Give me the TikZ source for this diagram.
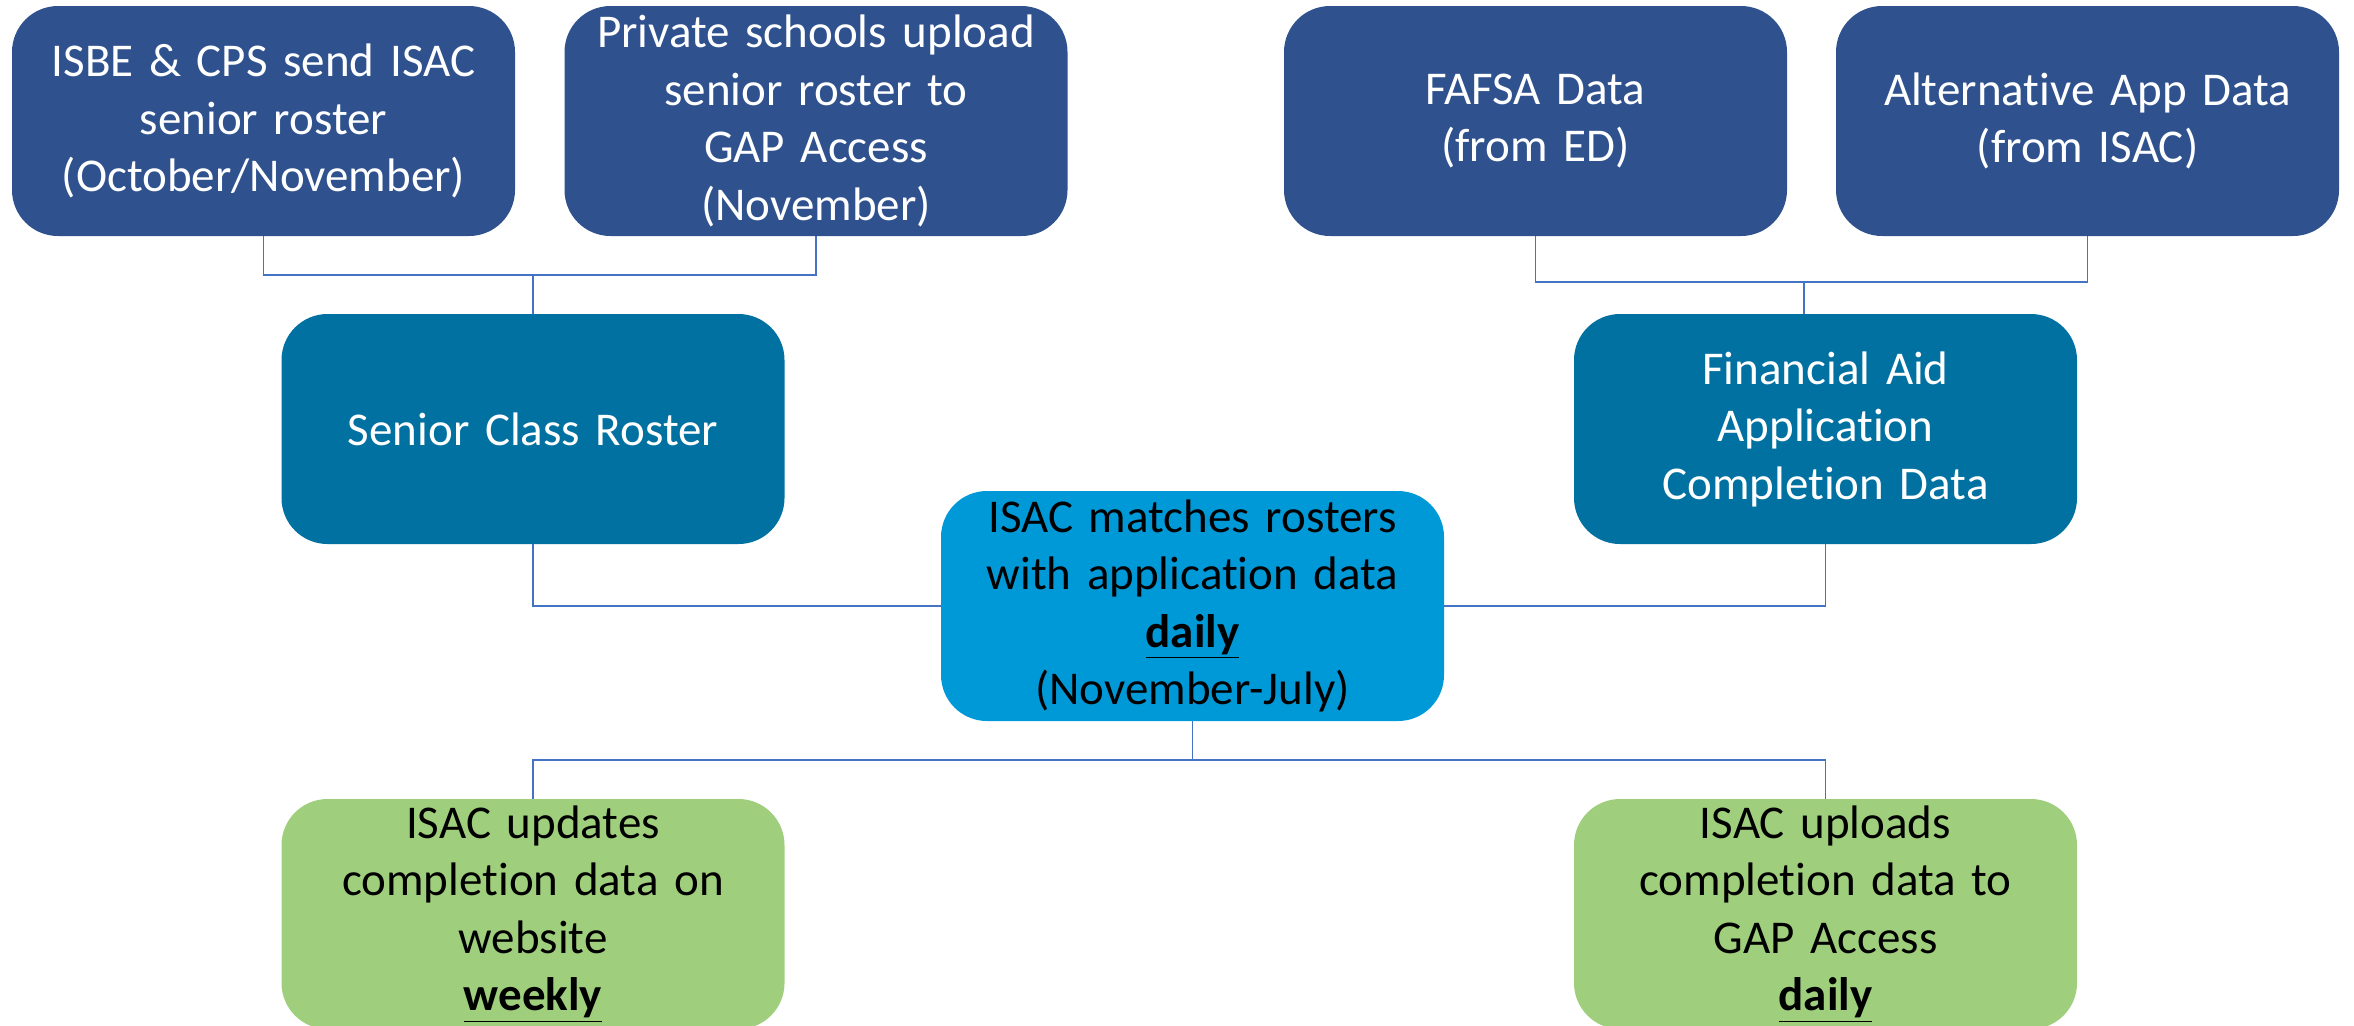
\documentclass[tikz,border=0pt]{standalone}
\usepackage{fontspec}
\setmainfont[Ligatures={NoCommon}]{Carlito}
\definecolor{dblue}{HTML}{2F528F}
\definecolor{teal}{HTML}{0071A0}
\definecolor{bblue}{HTML}{0099D8}
\definecolor{lgreen}{HTML}{9FCF7C}
\definecolor{conncol}{HTML}{4472C4}
\tikzset{
  box/.style={rectangle, rounded corners=23pt, minimum width=251.5pt, minimum height=115pt,
    inner sep=0pt, align=center, text width=245pt,
    font=\fontsize{23.5}{28.75}\selectfont},
  topbox/.style={box, fill=dblue, text=white},
  midbox/.style={box, fill=teal, text=white},
  cenbox/.style={box, fill=bblue, text=black},
  grbox/.style={box, fill=lgreen, text=black},
  conn/.style={draw=conncol, line width=0.9pt}
}
\newcommand{\ulbf}[1]{\textbf{\underline{#1}}}
\begin{document}
\begin{tikzpicture}[x=0.5pt,y=-0.5pt]
\useasboundingbox (0,0) rectangle (2354,1025);
\clip (0,0) rectangle (2354,1025);
\node[topbox] (A) at (263.5,121) {ISBE \& CPS send ISAC\\senior roster\\(October/November)};
\node[topbox] (B) at (816,121) {Private schools upload\\senior roster to\\GAP Access\\(November)};
\node[topbox] (C) at (1535.5,121) {FAFSA Data\\(from ED)};
\node[topbox] (D) at (2087.5,121) {Alternative App Data\\(from ISAC)};
\node[midbox] (S) at (533,429) {Senior Class Roster};
\node[midbox] (F) at (1825.5,429) {Financial Aid\\Application\\Completion Data};
\node[cenbox] (M) at (1192.5,606) {ISAC matches rosters\\with application data\\\ulbf{daily}\\(November-July)};
\node[grbox] (G1) at (533,914) {ISAC updates\\completion data on\\website\\\ulbf{weekly}};
\node[grbox] (G2) at (1825.5,914) {ISAC uploads\\completion data to\\GAP Access\\\ulbf{daily}};
\coordinate (jL) at (533,275);
\coordinate (jR) at (1804,282);
\coordinate (jB) at (1192.5,760);
\draw[conn] (A.south) |- (jL) -| (B.south);
\draw[conn] (jL) -- (S.north);
\draw[conn] (C.south) |- (jR) -| (D.south);
\draw[conn] (jR) -- (jR |- F.north);
\draw[conn] (S.south) |- (M.west);
\draw[conn] (F.south) |- (M.east);
\draw[conn] (M.south) -- (jB);
\draw[conn] (G1.north) |- (jB) -| (G2.north);
\end{tikzpicture}
\end{document}
